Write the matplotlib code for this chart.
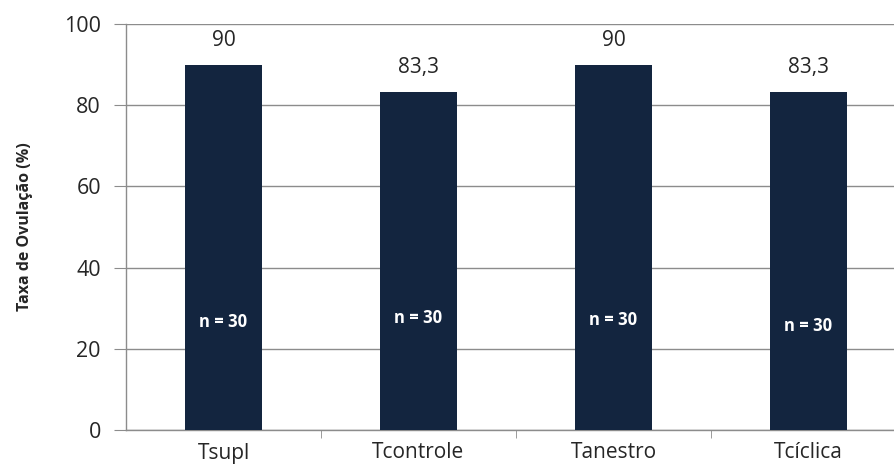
import numpy as np
import matplotlib.pyplot as plt

# ovulation rate per treatment group
grupos = ['Tsupl', 'Tcontrole', 'Tanestro', 'Tcíclica']
taxa_ovulacao = [90, 83.3, 90, 83.3]
rotulos_valor = ['90', '83,3', '90', '83,3']
n_animais = [30, 30, 30, 30]
altura_n = [26.6, 27.6, 27.0, 25.6]  # vertical placement of the "n = " labels

plt.rcParams['font.family'] = ['Open Sans', 'DejaVu Sans']

cor_barra = '#13253f'
cor_grade = '#8c8c8c'
cor_texto = '#262626'

fig = plt.figure(figsize=(8.94, 4.68), dpi=100)
# plot area runs past the right border of the figure
ax = fig.add_axes([126 / 894, 38 / 468, 780 / 894, 406 / 468])

x = np.arange(len(grupos))
barras = ax.bar(x, taxa_ovulacao, width=0.39, color=cor_barra, zorder=3)

ax.set_xlim(-0.5, len(grupos) - 0.5)
ax.set_ylim(0, 100)
ax.set_yticks(range(0, 101, 20))
ax.yaxis.grid(True, color=cor_grade, linewidth=1.0, zorder=0)
ax.set_axisbelow(True)

for lado in ['top', 'right']:
    ax.spines[lado].set_visible(False)
for lado in ['left', 'bottom']:
    ax.spines[lado].set_color(cor_grade)
    ax.spines[lado].set_linewidth(1.0)

ax.set_xticks(x)
ax.set_xticklabels(grupos, fontsize=15, color=cor_texto)
ax.set_xticks(np.arange(len(grupos)) + 0.5, minor=True)
ax.tick_params(axis='x', which='major', length=0, pad=9)
ax.tick_params(axis='x', which='minor', length=6, color=cor_grade, direction='out')
ax.tick_params(axis='y', length=9, color=cor_grade, pad=9, labelsize=15.5, labelcolor=cor_texto)

ax.set_ylabel('Taxa de Ovulação (%)', fontsize=11.5, fontweight='bold', color=cor_texto, labelpad=22)

for barra, valor, rotulo in zip(barras, taxa_ovulacao, rotulos_valor):
    ax.annotate(rotulo, (barra.get_x() + barra.get_width() / 2, valor),
                xytext=(0, 10), textcoords='offset points',
                ha='center', va='bottom', fontsize=15, color=cor_texto)

for xi, n, yi in zip(x, n_animais, altura_n):
    ax.text(xi, yi, f'n = {n}', ha='center', va='center',
            fontsize=12, fontweight='bold', color='white', zorder=4)

fig.savefig('out.png', dpi=100)
